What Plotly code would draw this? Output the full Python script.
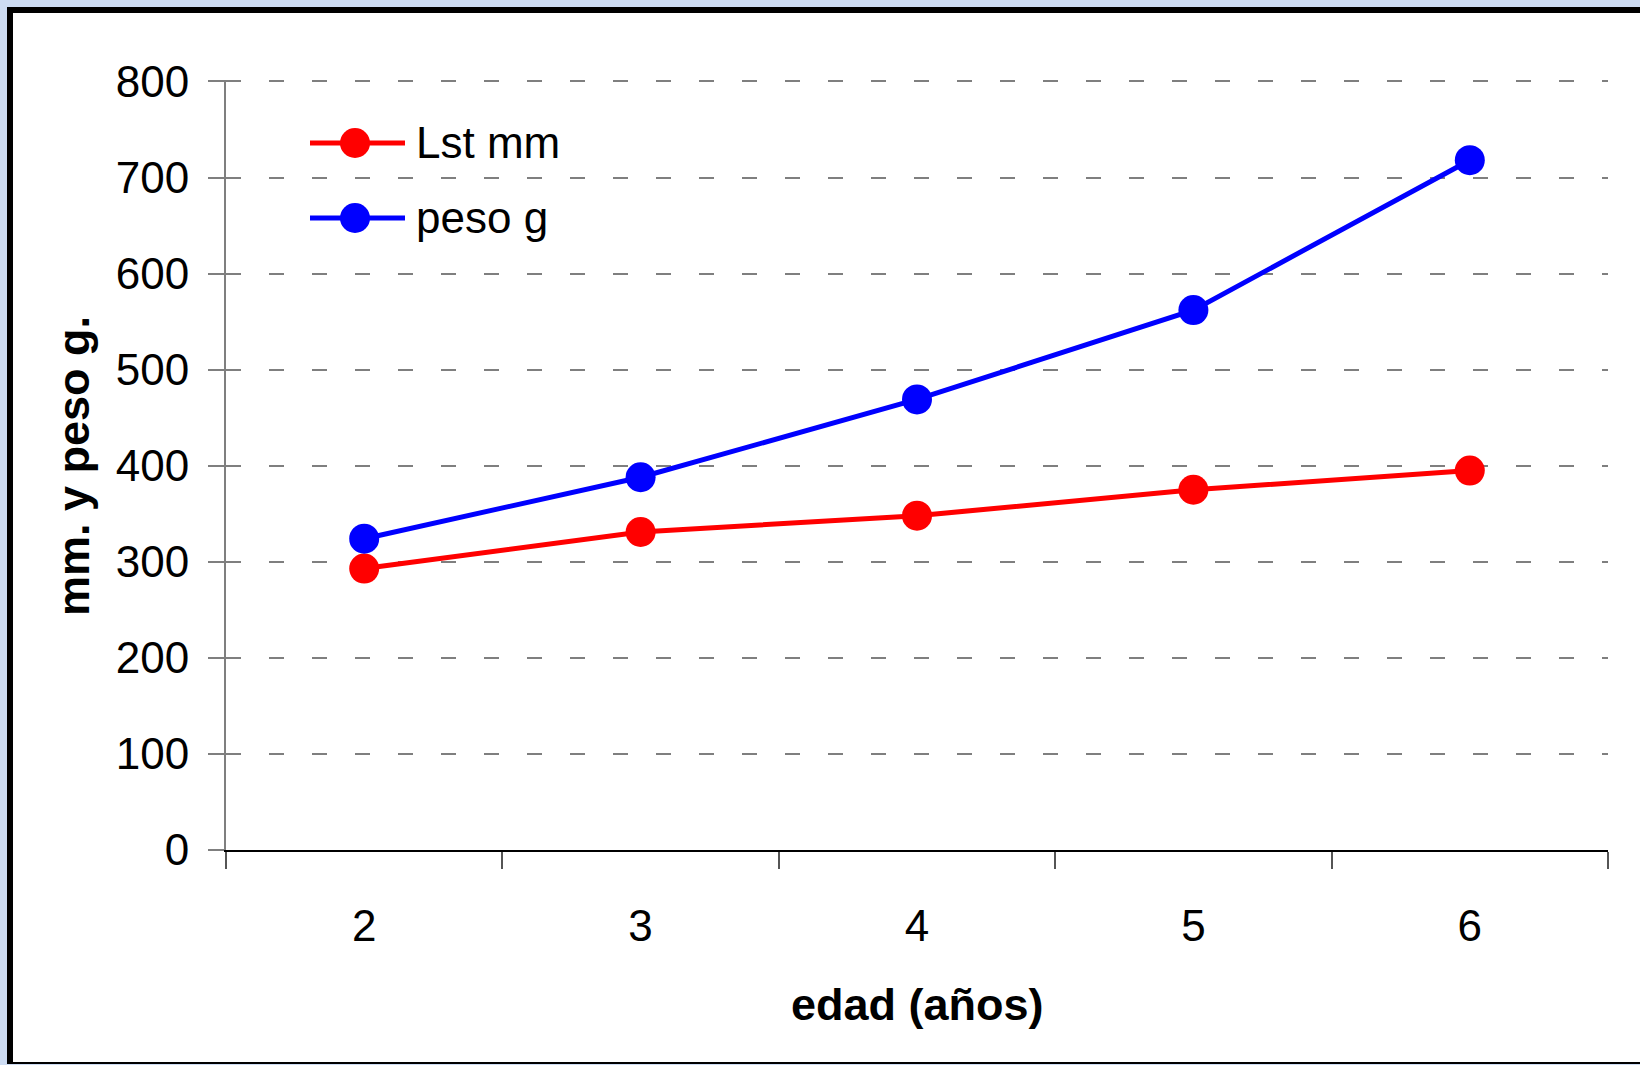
import plotly.graph_objects as go

# ---- data ----
edad = ["2", "3", "4", "5", "6"]
lst_mm = [293, 331, 348, 375, 395]
peso_g = [324, 388, 469, 562, 718]
series_names = ["Lst mm", "peso g"]
series_colors = ["#ff0000", "#0000ff"]
y_ticks = [0, 100, 200, 300, 400, 500, 600, 700, 800]

W_PX, H_PX = 1640, 1065
L, R, T, B = 226, 32, 80, 215
PW = W_PX - L - R
PH = H_PX - T - B


def px(x):
    return (x - L) / PW


def py(y):
    return (H_PX - B - y) / PH


FONT = "Liberation Sans, Arial, sans-serif"

fig = go.Figure()
for name, vals, col in zip(series_names, [lst_mm, peso_g], series_colors):
    fig.add_trace(go.Scatter(
        x=edad, y=vals, name=name, mode="lines+markers",
        line=dict(color=col, width=5),
        marker=dict(color=col, size=30, line=dict(width=0)),
        showlegend=False, cliponaxis=False,
    ))

shapes = []
# white frame panel
shapes.append(dict(type="rect", xref="paper", yref="paper", layer="below",
                   x0=px(7), x1=px(1645), y0=py(1064), y1=py(7),
                   fillcolor="white", line=dict(width=0)))
# black frame borders
shapes.append(dict(type="line", xref="paper", yref="paper", layer="below",
                   x0=px(10), x1=px(10), y0=py(1064), y1=py(7),
                   line=dict(color="black", width=6)))
shapes.append(dict(type="line", xref="paper", yref="paper", layer="below",
                   x0=px(7), x1=px(1645), y0=py(10), y1=py(10),
                   line=dict(color="black", width=6)))
shapes.append(dict(type="line", xref="paper", yref="paper", layer="below",
                   x0=px(7), x1=px(1645), y0=py(1063), y1=py(1063),
                   line=dict(color="black", width=2)))

annotations = []
# manual legend
leg_y = [143, 218]
for name, col, ly in zip(series_names, series_colors, leg_y):
    shapes.append(dict(type="line", xref="paper", yref="paper",
                       x0=px(310), x1=px(405), y0=py(ly), y1=py(ly),
                       line=dict(color=col, width=5)))
    shapes.append(dict(type="circle", xref="paper", yref="paper",
                       x0=px(340), x1=px(370), y0=py(ly + 15), y1=py(ly - 15),
                       fillcolor=col, line=dict(width=0)))
    annotations.append(dict(xref="paper", yref="paper", x=px(414), y=py(ly),
                            xanchor="left", yanchor="middle", showarrow=False,
                            text=name, font=dict(family=FONT, size=44, color="black")))

# axis titles
annotations.append(dict(xref="paper", yref="paper", x=px(73), y=py(466),
                        xanchor="center", yanchor="middle", showarrow=False,
                        textangle=-90, text="<b>mm. y peso g.</b>",
                        font=dict(family=FONT, size=45, color="black")))
annotations.append(dict(xref="paper", yref="paper", x=px(917), y=py(1004),
                        xanchor="center", yanchor="middle", showarrow=False,
                        text="<b>edad (años)</b>",
                        font=dict(family=FONT, size=45, color="black")))

fig.update_layout(
    width=W_PX, height=H_PX,
    margin=dict(l=L, r=R, t=T, b=B, autoexpand=False),
    paper_bgcolor="#cddcf3",
    plot_bgcolor="rgba(0,0,0,0)",
    showlegend=False,
    shapes=shapes,
    annotations=annotations,
    xaxis=dict(
        type="category", tickson="boundaries", range=[-0.5, 4.5],
        ticks="outside", ticklen=17, tickwidth=2, tickcolor="#555555",
        showline=True, linecolor="black", linewidth=2,
        showgrid=False, zeroline=False,
        tickfont=dict(family=FONT, size=44, color="black"),
        ticklabelstandoff=36,
    ),
    yaxis=dict(
        range=[0, 801.5], tickvals=y_ticks,
        ticks="outside", ticklen=16, tickwidth=2, tickcolor="#7f7f7f",
        showline=True, linecolor="#7f7f7f", linewidth=2,
        showgrid=True, gridcolor="#7f7f7f", gridwidth=2, griddash="15px,28px",
        zeroline=False,
        tickfont=dict(family=FONT, size=44, color="black"),
        ticklabelstandoff=10,
    ),
)

fig.write_html("out.html", config={"displayModeBar": False},
               post_script="document.body.style.margin='0';")
